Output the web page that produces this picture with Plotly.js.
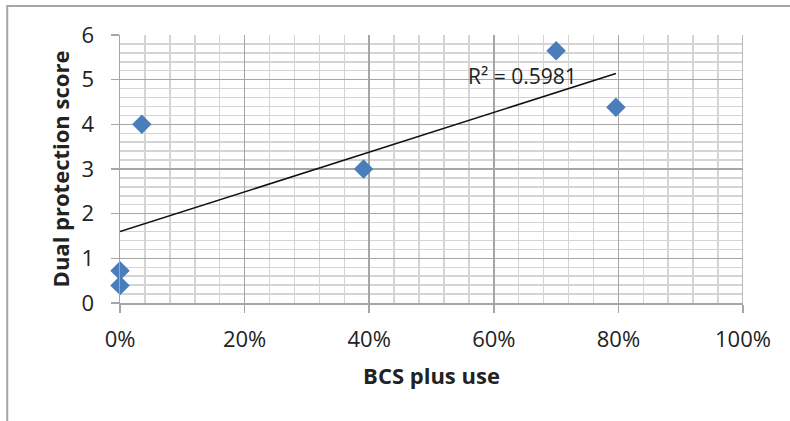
<!DOCTYPE html>
<html>
<head>
<meta charset="utf-8">
<script src="https://cdn.plot.ly/plotly-3.0.1.min.js"></script>
<style>html,body{margin:0;padding:0;background:#fff;}#chart{width:790px;height:421px;}</style>
</head>
<body>
<div id="chart"></div>
<script>
const bcsPlusUse = [0.000, 0.000, 0.035, 0.391, 0.700, 0.796];
const dualProtectionScore = [0.72, 0.39, 4.00, 3.00, 5.65, 4.38];
const xTickVals = [0, 0.2, 0.4, 0.6, 0.8, 1.0];
const xTickText = ['0%', '20%', '40%', '60%', '80%', '100%'];
const r2Label = 'R² = 0.5981';

// least-squares linear trendline from the data
const n = bcsPlusUse.length;
const mx = bcsPlusUse.reduce((a, b) => a + b, 0) / n;
const my = dualProtectionScore.reduce((a, b) => a + b, 0) / n;
let sxy = 0, sxx = 0;
for (let i = 0; i < n; i++) {
  sxy += (bcsPlusUse[i] - mx) * (dualProtectionScore[i] - my);
  sxx += (bcsPlusUse[i] - mx) ** 2;
}
const slope = sxy / sxx;
const intercept = my - slope * mx;
const xMin = Math.min(...bcsPlusUse), xMax = Math.max(...bcsPlusUse);
const trendX = [xMin, xMax];
const trendY = trendX.map(x => intercept + slope * x);

const font = "Open Sans, Liberation Sans, sans-serif";

const data = [
  {
    x: trendX, y: trendY, type: 'scatter', mode: 'lines',
    line: {color: '#111111', width: 1.5}, hoverinfo: 'skip', showlegend: false
  },
  {
    x: bcsPlusUse, y: dualProtectionScore, type: 'scatter', mode: 'markers',
    marker: {symbol: 'diamond', size: 15, color: '#4a7ebb'}, showlegend: false, cliponaxis: false
  }
];

const layout = {
  width: 790, height: 421,
  margin: {l: 120, r: 47, t: 35, b: 118},
  paper_bgcolor: '#ffffff', plot_bgcolor: '#ffffff',
  font: {family: font, size: 22, color: '#222222'},
  showlegend: false,
  xaxis: {
    range: [0, 1], tickvals: xTickVals, ticktext: xTickText,
    showgrid: true, gridcolor: '#a6a6a6', gridwidth: 1.5,
    minor: {dtick: 0.04, showgrid: true, gridcolor: '#d4d4d4', gridwidth: 1.5, ticks: ''},
    ticks: 'outside', ticklen: 8, tickcolor: '#a6a6a6', tickwidth: 1.5,
    ticklabelstandoff: 8,
    showline: true, linecolor: '#a6a6a6', linewidth: 1.5,
    zeroline: false, tickfont: {size: 22, family: font, color: '#222'},
    title: {text: 'BCS plus use', font: {size: 22, family: font, weight: 'bold', color: '#222'}, standoff: 16}
  },
  yaxis: {
    range: [0, 6], dtick: 1,
    showgrid: true, gridcolor: '#a6a6a6', gridwidth: 1.5,
    minor: {dtick: 0.2, showgrid: true, gridcolor: '#d4d4d4', gridwidth: 1.5, ticks: ''},
    ticks: 'outside', ticklen: 8, tickcolor: '#a6a6a6', tickwidth: 1.5,
    ticklabelstandoff: 12,
    showline: true, linecolor: '#a6a6a6', linewidth: 1.5,
    zeroline: false, tickfont: {size: 22, family: font, color: '#222'},
    title: {text: 'Dual protection score', font: {size: 22, family: font, weight: 'bold', color: '#222'}, standoff: 6}
  },
  shapes: [
    {type: 'line', xref: 'x', yref: 'y', x0: 1, x1: 1, y0: 0, y1: 6, line: {color: '#a6a6a6', width: 1.5}},
    {type: 'rect', xref: 'paper', yref: 'paper', x0: -0.181, x1: 2, y0: -2, y1: 1.108,
     line: {color: '#a6a6a6', width: 2}, fillcolor: 'rgba(0,0,0,0)'}
  ],
  annotations: [
    {x: 0.556, y: 5.09, xref: 'x', yref: 'y', xanchor: 'left', yanchor: 'middle',
     text: r2Label, showarrow: false, font: {size: 21, family: font, color: '#222'}}
  ]
};

Plotly.newPlot('chart', data, layout, {displayModeBar: false, staticPlot: true});
</script>
</body>
</html>
